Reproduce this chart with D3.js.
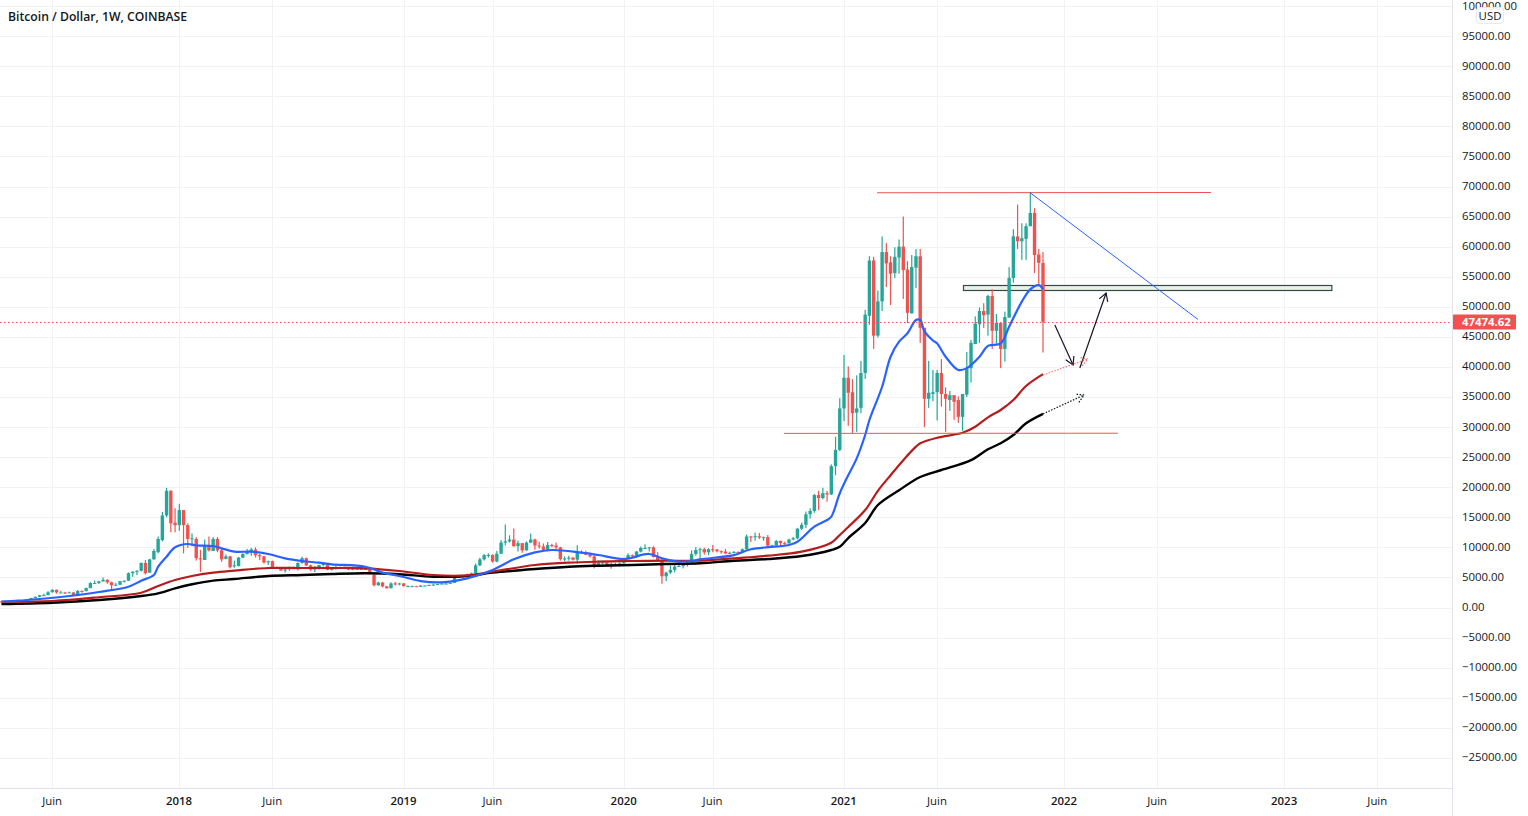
<!DOCTYPE html>
<html>
<head>
<meta charset="utf-8">
<script src="https://cdnjs.cloudflare.com/ajax/libs/d3/7.8.5/d3.min.js"></script>
<style>
  html, body { margin: 0; padding: 0; background: #fff; overflow: hidden; }
  svg { display: block; }
  text { font-family: "Open Sans", sans-serif; fill: #131722; }
</style>
</head>
<body>
<svg id="chart" width="1528" height="816"></svg>
<script>
// weekly candles, bar 0 = week of 13 Mar 2017, 10 values a row
const opens = [
  1000,970,965,1080,1180,1170,1240,1340,1560,1770,
  2040,2050,2530,2950,2500,2500,2450,2510,1930,2750,
  2730,3230,4060,4080,4350,4600,4200,3700,3780,4370,
  4450,5700,5950,6100,7400,5800,8000,9200,11200,15300,
  19400,14100,13700,16200,13700,11400,11400,8200,7900,10300,
  9400,11400,9500,8100,8500,6900,6900,8300,8900,9300,
  9650,8700,8500,7500,7700,6700,6500,6150,6350,6700,
  6350,7400,8200,7000,6300,6500,7050,7300,6250,6500,
  6700,6600,6600,6300,6420,6400,6400,6350,5400,3700,
  4150,3500,3200,4000,3850,4000,3550,3550,3550,3450,
  3650,3650,3750,3800,3900,3980,3980,4100,5050,5070,
  5280,5180,5700,7000,8000,8700,8750,7650,8950,10800,
  11000,11300,10200,10700,9500,10800,11300,10300,10150,9600,
  10400,10300,10000,8050,8150,8300,7950,9250,9200,8800,
  8500,7050,7400,7500,7100,7250,7250,7350,8200,8700,
  8600,9300,9900,9900,10000,8400,7900,5200,5800,6250,
  6800,6900,7100,7500,8900,9550,9700,9180,9700,9650,
  9350,9300,9000,9080,9230,9170,9700,11800,11700,11850,
  11650,11700,10300,10300,11080,10700,10680,11300,11500,13100,
  13750,15500,16050,18700,18200,19000,18800,23500,26200,33100,
  38200,35800,32400,33200,39000,48500,57700,45200,50900,59100,
  57400,55600,58200,60000,56200,48900,56500,58400,46500,34700,
  35500,35800,39000,35500,34500,35300,34500,31700,35400,39800,
  43800,47100,49300,48700,51800,46000,47300,43000,48200,54800,
  61700,60900,61300,63400,65600,58700,57300
];
const highs = [
  1060,1050,1120,1200,1240,1260,1350,1600,1850,2100,
  2300,2720,3000,2980,2780,2600,2650,2550,2900,2850,
  3300,4200,4480,4400,4980,4700,4300,4100,4400,4500,
  5850,6000,6200,7500,7900,8100,9700,11800,15900,19891,
  19500,16500,17250,14000,14000,12300,11700,9600,11300,11800,
  11700,11700,9900,8800,8600,7800,8400,9000,9750,9900,
  10000,8900,8600,7800,7800,6800,6700,6550,6800,6800,
  7500,8450,8300,7150,6900,7100,7400,7300,6600,6900,
  6800,6800,6650,6800,6600,6550,6500,6400,5650,4300,
  4250,3600,4200,4250,4100,4050,3700,3650,3600,3700,
  3700,3800,4000,3930,4000,4050,4100,5300,5350,5350,
  5650,5800,7300,8300,8900,9000,8800,9400,11200,13800,
  12000,13130,11100,10650,11000,12300,11450,10950,10650,10900,
  10600,10800,10100,8500,8600,8400,10350,9500,9450,9100,
  8700,7800,7800,7500,7500,7450,7500,8300,9000,8800,
  9400,10150,10500,10050,10200,9200,8200,5950,6950,7200,
  7450,7300,7800,9500,10050,9950,9950,9850,10400,9700,
  9500,9750,9280,9400,9350,9800,12130,11900,12480,12400,
  11800,12050,10450,11180,11100,10950,11450,11750,13250,14100,
  15950,16480,18900,19400,19900,19400,23800,28400,34800,42000,
  40100,38000,38600,41000,49500,58400,58300,52700,61700,60600,
  58400,59900,61200,65000,57600,58600,59600,59600,46500,41000,
  39500,39500,41300,36600,36000,35300,35100,35500,42500,44500,
  48400,49900,50600,52000,52900,48800,47300,49200,56600,62900,
  67000,63900,63900,69000,66400,59600,59100
];
const lows = [
  940,900,1000,1060,1160,1160,1240,1340,1560,1770,
  1920,2050,2500,2300,2450,2250,2420,1850,1850,2450,
  2680,3200,3950,3900,4300,3950,2980,3600,3750,4150,
  4400,5100,5400,6000,5500,5800,7950,9000,11000,15000,
  12500,12500,12750,9000,9900,10200,7800,5900,7900,9300,
  9400,9200,7600,8000,6500,6600,6800,8200,8800,8600,
  8300,7900,7300,7050,7000,6400,6100,5800,6100,6400,
  6150,7300,6900,6100,5900,6300,6900,6200,6150,6300,
  6400,6500,6200,6200,6350,6250,6300,5500,3500,3600,
  3350,3150,3200,3650,3700,3500,3480,3500,3400,3400,
  3600,3620,3700,3750,3870,3900,3950,4070,4950,4950,
  5100,5150,5600,6900,7800,8300,7450,7500,8900,10300,
  10800,10100,9300,9100,9450,10700,9600,9800,9300,9550,
  10000,9650,7800,7700,7800,7800,7300,8900,8700,8300,
  6500,6850,7200,6900,6450,7100,6850,7300,8100,8250,
  8250,9150,9700,9300,8300,7700,3950,4400,5600,5850,
  6750,6500,6800,7450,8600,8100,8800,8700,9200,9150,
  8950,8900,8850,9000,9000,9100,9600,10900,11100,11400,
  11100,9900,10000,10200,10100,10400,10600,11200,11350,12900,
  13200,14800,15750,16200,18000,17600,18700,22000,26000,31000,
  30200,29000,29200,32300,38000,47000,43000,44900,49300,53300,
  50300,54800,55500,51300,47300,48900,53100,44000,30000,33200,
  34300,31100,33400,29200,32700,31200,30700,29400,35000,37400,
  43800,44000,46500,45200,43000,43900,39800,40900,48200,54000,
  59600,57800,57800,63400,55600,53600,42400
];
const closes = [
  970,965,1080,1180,1170,1240,1340,1560,1770,2040,
  2050,2530,2950,2500,2500,2450,2510,1930,2750,2730,
  3230,4060,4080,4350,4600,4200,3700,3780,4370,4450,
  5700,5950,6100,7400,5700,8000,9400,11400,15300,19400,
  14000,13700,16200,13700,11400,11500,8200,8000,10300,9500,
  11400,9500,8000,8500,6700,7000,8300,8900,9300,9650,
  8700,8500,7500,7700,6700,6500,6150,6350,6700,6350,
  7400,8200,7000,6300,6500,7050,7300,6250,6500,6700,
  6600,6600,6300,6420,6400,6400,6350,5600,3700,4150,
  3500,3200,4000,3850,4000,3550,3550,3550,3450,3650,
  3650,3750,3800,3900,3980,3980,4100,5050,5070,5280,
  5180,5700,7000,8000,8700,8750,7650,8950,10800,11000,
  11300,10200,10700,9500,10800,11300,10300,10150,9600,10400,
  10300,10000,8050,8150,8300,7950,9250,9200,8800,8500,
  7050,7400,7500,7100,7250,7250,7350,8200,8700,8600,
  9300,9900,9900,10000,8400,7900,5200,5800,6250,6800,
  6900,7100,7500,8900,9550,9700,9180,9700,9650,9350,
  9300,9000,9080,9230,9170,9700,11800,11700,11850,11650,
  11700,10300,10300,11080,10700,10680,11300,11500,13100,13750,
  15500,16050,18700,18200,19000,18800,23500,26200,33100,38200,
  35700,32300,33100,39000,48700,57700,45200,50900,59100,57200,
  55500,58300,60000,56100,49000,56600,58400,46500,34700,35700,
  35800,39000,35500,34700,35300,34200,31700,35500,39800,44000,
  47200,49300,48600,51800,46000,47300,43000,48300,54800,61700,
  60900,61400,63400,65600,58600,57300,47474.62
];

// moving averages, bar number + value
const blueBars = [0,4,9,14,18,23,30,33,36,37,39,41,44,46,50,52,55,59,63,67,71,75,78,86,90,94,99,104,110,116,121,126,130,137,141,147,153,156,160,163,165,173,177,186,188,192,195,196,198,200,202,204,205,208,210,212,214,216,217,218,220,221,223,226,228,231,233,236,238,241,243,245,246];
const blueVals = [1000,1130,1410,1750,2080,2580,3460,4460,5400,6780,8450,10010,10560,10340,10230,9840,9280,9280,8900,8180,7730,7450,7180,6780,5790,5240,4400,4190,4850,6230,8010,9170,9560,9110,8730,8060,8900,8180,7620,7730,8010,8700,9680,10400,10940,13440,14550,15100,19000,22000,24800,28680,31180,36700,41700,44200,45600,47800,47800,45900,44400,43900,41700,39500,39800,41700,43500,43900,46700,50850,52900,53600,52900];
const redBars = [0,12,23,33,37,41,45,50,55,63,71,78,86,94,102,110,116,126,134,141,149,157,165,173,181,189,196,198,200,204,207,210,213,216,217,221,227,230,233,236,239,242,246];
const redVals = [960,1080,1700,2460,3580,4570,5240,5790,6120,6570,6570,6570,6520,6070,5400,5350,5950,7070,7450,7620,7730,7780,7780,8180,8610,9280,10770,12050,13380,16200,19400,22000,24500,26740,27300,28230,29060,30060,31620,32840,34500,36830,38800];
const blackBars = [0,12,23,33,37,41,45,50,55,63,71,78,86,94,102,110,116,126,134,141,149,157,165,173,181,189,196,198,200,204,207,212,217,222,229,233,236,239,242,246];
const blackVals = [580,800,1250,1910,2360,3190,3860,4460,4740,5240,5400,5570,5690,5520,5120,5240,5790,6400,6780,6950,7070,7230,7350,7780,8060,8560,9560,10100,11550,14050,17040,19500,21700,22860,24500,26300,27300,28680,30630,32200];

// axis ticks
const priceTicks = d3.range(-25000, 100001, 5000);
const timeTickBars = [12,42,64,95,116,147,168,199,221,251,273,303,325];
const timeTickLabels = ["Juin","2018","Juin","2019","Juin","2020","Juin","2021","Juin","2022","Juin","2023","Juin"];

// hand drawn objects on the chart, [bar, price]
const topLine = [[206.8,68960],[285.7,69000]];
const bottomLine = [[184.8,28950],[263.7,28980]];
const blueTrend = [[242.9,69000],[282.6,47900]];
const zoneBox = [[227,53700],[314,52870]];
const arrowDown = [[248.8,46980],[253.1,40320]];
const arrowUp = [[254.7,39820],[260.9,52290]];
const redProjection = [[246,38660],[256.6,41320]];
const blackProjection = [[246,32180],[255.7,35340]];

const lastPrice = 47474.62;

const width = 1528, height = 816;
const paneRight = 1452.5, paneBottom = 788.5;
const upColor = "#26a69a", downColor = "#ef5350";

const svg = d3.select("#chart");

const x = d3.scaleLinear().domain([42, 246]).range([179.3, 1043]);
const y = d3.scaleLinear().domain([0, 70000]).range([607.5, 186.5]);

const pane = svg.append("g");

// grid
pane.append("g").selectAll("line")
  .data(priceTicks)
  .join("line")
  .attr("x1", 0)
  .attr("x2", paneRight)
  .attr("y1", d => Math.round(y(d)) + 0.5)
  .attr("y2", d => Math.round(y(d)) + 0.5)
  .attr("stroke", "#f1f2f5");

pane.append("g").selectAll("line")
  .data(timeTickBars)
  .join("line")
  .attr("x1", d => Math.round(x(d)) + 0.5)
  .attr("x2", d => Math.round(x(d)) + 0.5)
  .attr("y1", 0)
  .attr("y2", paneBottom)
  .attr("stroke", "#f1f2f5");

// zone box sits under the candles
pane.append("rect")
  .attr("x", Math.round(x(zoneBox[0][0])) + 0.5)
  .attr("y", Math.round(y(zoneBox[0][1])) + 0.5)
  .attr("width", x(zoneBox[1][0]) - x(zoneBox[0][0]))
  .attr("height", y(zoneBox[1][1]) - y(zoneBox[0][1]))
  .attr("fill", "#e8f3e6")
  .attr("stroke", "#37474f")
  .attr("stroke-width", 1.2);

// candles
const candles = pane.append("g").selectAll("g")
  .data(closes.map((c, i) => ({i, o: opens[i], h: highs[i], l: lows[i], c})))
  .join("g")
  .attr("fill", d => d.c >= d.o ? upColor : downColor);

candles.append("rect")
  .attr("x", d => x(d.i) - 0.6)
  .attr("width", 1.2)
  .attr("y", d => y(d.h))
  .attr("height", d => y(d.l) - y(d.h));

candles.append("rect")
  .attr("x", d => x(d.i) - 1.7)
  .attr("width", 3.4)
  .attr("y", d => Math.min(y(d.o), y(d.c)))
  .attr("height", d => Math.max(1, Math.abs(y(d.o) - y(d.c))));

// moving averages
const maLine = d3.line()
  .x(d => x(d[0]))
  .y(d => y(d[1]))
  .curve(d3.curveCatmullRom);

const drawMa = (bars, vals, color, w) => {
  pane.append("path")
    .attr("d", maLine(bars.map((b, i) => [b, vals[i]])))
    .attr("fill", "none")
    .attr("stroke", color)
    .attr("stroke-width", w)
    .attr("stroke-linejoin", "round");
};
drawMa(blackBars, blackVals, "#000000", 2.4);
drawMa(redBars, redVals, "#b71c1c", 2.2);
drawMa(blueBars, blueVals, "#2962ff", 2.2);

// last price line
pane.append("line")
  .attr("x1", 0)
  .attr("x2", paneRight)
  .attr("y1", Math.round(y(lastPrice)) + 0.5)
  .attr("y2", Math.round(y(lastPrice)) + 0.5)
  .attr("stroke", downColor)
  .attr("stroke-dasharray", "1.5 2.5");

// drawings
const seg = (pts, color, w, dash, opacity) => pane.append("line")
  .attr("x1", x(pts[0][0]))
  .attr("y1", y(pts[0][1]))
  .attr("x2", x(pts[1][0]))
  .attr("y2", y(pts[1][1]))
  .attr("stroke", color)
  .attr("stroke-width", w)
  .attr("stroke-dasharray", dash)
  .attr("stroke-opacity", opacity);

const arrowHead = (pts, color, w, dash, opacity) => {
  const px = x(pts[1][0]), py = y(pts[1][1]);
  const ang = Math.atan2(py - y(pts[0][1]), px - x(pts[0][0]));
  const headLen = 9;
  const p = d3.path();
  p.moveTo(px + headLen * Math.cos(ang + 2.62), py + headLen * Math.sin(ang + 2.62));
  p.lineTo(px, py);
  p.lineTo(px + headLen * Math.cos(ang - 2.62), py + headLen * Math.sin(ang - 2.62));
  pane.append("path")
    .attr("d", p.toString())
    .attr("fill", "none")
    .attr("stroke", color)
    .attr("stroke-width", w)
    .attr("stroke-dasharray", dash)
    .attr("stroke-opacity", opacity);
};

seg(topLine, "#ef5350", 1);
seg(bottomLine, "#ef5350", 1);
seg(blueTrend, "#2962ff", 1);

seg(arrowDown, "#131722", 1.2);
arrowHead(arrowDown, "#131722", 1.2);
seg(arrowUp, "#131722", 1.2);
arrowHead(arrowUp, "#131722", 1.2);

seg(redProjection, "#ef5350", 1.2, "1.5 1.5", 0.8);
arrowHead(redProjection, "#ef5350", 1.2, "1.5 1.5", 0.8);
seg(blackProjection, "#131722", 1.2, "1.5 1.5");
arrowHead(blackProjection, "#131722", 1.2, "1.5 1.5");

// title
svg.append("text")
  .attr("x", 8)
  .attr("y", 20.5)
  .attr("font-size", 12.2)
  .attr("font-weight", 600)
  .text("Bitcoin / Dollar, 1W, COINBASE");

// right price axis
const yAxis = d3.axisRight(y)
  .tickValues(priceTicks)
  .tickSize(0)
  .tickPadding(9.5)
  .tickFormat(d => d3.format(".2f")(d).replace("-", "\u2212"));

svg.append("g")
  .attr("transform", `translate(${paneRight},-0.7)`)
  .call(yAxis)
  .call(g => g.select(".domain").remove())
  .call(g => g.selectAll("text")
    .attr("font-size", 11.4)
    .attr("font-family", "'Open Sans', sans-serif")
    .attr("fill", "#131722"));

// bottom time axis
const xAxis = d3.axisBottom(x)
  .tickValues(timeTickBars)
  .tickSize(0)
  .tickPadding(8)
  .tickFormat((d, i) => timeTickLabels[i]);

svg.append("g")
  .attr("transform", `translate(-0.7,${paneBottom})`)
  .call(xAxis)
  .call(g => g.select(".domain").remove())
  .call(g => g.selectAll("text")
    .attr("font-size", 11.4)
    .attr("font-family", "'Open Sans', sans-serif")
    .attr("font-weight", (d, i) => timeTickLabels[i] == "Juin" ? 400 : 600)
    .attr("fill", "#131722"));

// axis borders
svg.append("line")
  .attr("x1", paneRight).attr("x2", paneRight)
  .attr("y1", 0).attr("y2", height)
  .attr("stroke", "#e0e3eb");
svg.append("line")
  .attr("x1", 0).attr("x2", paneRight)
  .attr("y1", paneBottom).attr("y2", paneBottom)
  .attr("stroke", "#e0e3eb");

// last price tag
svg.append("rect")
  .attr("x", 1453)
  .attr("y", y(lastPrice) - 7.5)
  .attr("width", 63)
  .attr("height", 15)
  .attr("rx", 1)
  .attr("fill", downColor);
svg.append("text")
  .attr("x", 1462)
  .attr("y", y(lastPrice) + 4.5)
  .attr("font-size", 11.4)
  .attr("font-weight", 700)
  .style("fill", "#ffffff")
  .text(d3.format(".2f")(lastPrice));

// currency badge
svg.append("rect")
  .attr("x", 1476.5)
  .attr("y", 7.5)
  .attr("width", 27)
  .attr("height", 16)
  .attr("rx", 3)
  .attr("fill", "#ffffff")
  .attr("fill-opacity", 0.9)
  .attr("stroke", "#e8e8ee");
svg.append("text")
  .attr("x", 1490)
  .attr("y", 20)
  .attr("text-anchor", "middle")
  .attr("font-size", 11.4)
  .text("USD");
</script>
</body>
</html>
